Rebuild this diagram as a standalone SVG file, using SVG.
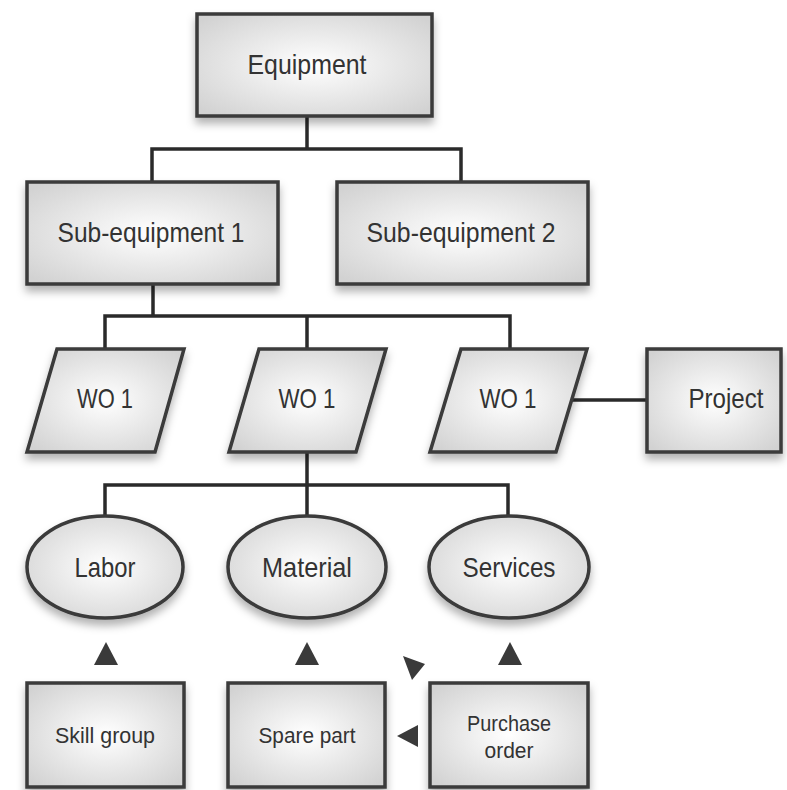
<svg xmlns="http://www.w3.org/2000/svg" width="787" height="790" viewBox="0 0 787 790">
<defs>
<radialGradient id="g" cx="50%" cy="50%" r="65%">
<stop offset="0" stop-color="#ffffff"/>
<stop offset="1" stop-color="#d2d2d2"/>
</radialGradient>
<filter id="sh" x="-10%" y="-10%" width="120%" height="135%">
<feDropShadow dx="0" dy="6" stdDeviation="4" flood-color="#000" flood-opacity="0.3"/>
</filter>
</defs>
<style>
.n{fill:url(#g);stroke:#3a3a3a;stroke-width:3.5;filter:url(#sh)}
.t{font-family:"Liberation Sans",Arial,sans-serif;font-size:28px;fill:#333;text-anchor:middle}
.s{font-size:22px}
.c{fill:none;stroke:#2a2a2a;stroke-width:3.5}
.a{fill:#3a3a3a}
</style>
<g id="connectors">
<path class="c" d="M307 116V149M152 183V149H461V183"/>
<path class="c" d="M153 284V316M105 349V316H510V349M307 316V349"/>
<path class="c" d="M572 400H647"/>
<path class="c" d="M307 452V485M105 516V485H508V516M307 485V516"/>
<path class="a" d="M94 665L106 642L118 665Z"/>
<path class="a" d="M295 665L307 642L319 665Z"/>
<path class="a" d="M498 665L510 642L522 665Z"/>
<path class="a" d="M403 656L425 664L412 680Z"/>
<path class="a" d="M397 736L418 725L418 747Z"/>
</g>
<g id="equipment"><rect class="n" x="197" y="14" width="235" height="102"/><text class="t" x="307" y="74" textLength="119" lengthAdjust="spacingAndGlyphs">Equipment</text></g>
<g id="sub1"><rect class="n" x="27" y="182" width="251" height="102"/><text class="t" x="151" y="242" textLength="187" lengthAdjust="spacingAndGlyphs">Sub-equipment 1</text></g>
<g id="sub2"><rect class="n" x="337" y="182" width="251" height="102"/><text class="t" x="461" y="242" textLength="189" lengthAdjust="spacingAndGlyphs">Sub-equipment 2</text></g>
<g id="wo1"><path class="n" d="M57 349H184L155 452H27Z"/><text class="t" x="105" y="408" textLength="56" lengthAdjust="spacingAndGlyphs">WO 1</text></g>
<g id="wo2"><path class="n" d="M259 349H386L356 452H229Z"/><text class="t" x="307" y="408" textLength="57" lengthAdjust="spacingAndGlyphs">WO 1</text></g>
<g id="wo3"><path class="n" d="M461 349H587L556 452H430Z"/><text class="t" x="508" y="408" textLength="57" lengthAdjust="spacingAndGlyphs">WO 1</text></g>
<g id="project"><rect class="n" x="647" y="349" width="134" height="103"/><text class="t" x="726" y="408" textLength="75" lengthAdjust="spacingAndGlyphs">Project</text></g>
<g id="labor"><ellipse class="n" cx="105" cy="567" rx="78" ry="51"/><text class="t" x="105" y="577" textLength="61" lengthAdjust="spacingAndGlyphs">Labor</text></g>
<g id="material"><ellipse class="n" cx="307" cy="567" rx="79" ry="51"/><text class="t" x="307" y="577" textLength="90" lengthAdjust="spacingAndGlyphs">Material</text></g>
<g id="services"><ellipse class="n" cx="509" cy="567" rx="80" ry="51"/><text class="t" x="509" y="577" textLength="93" lengthAdjust="spacingAndGlyphs">Services</text></g>
<g id="skill"><rect class="n" x="27" y="683" width="157" height="104"/><text class="t s" x="105" y="743" textLength="100" lengthAdjust="spacingAndGlyphs">Skill group</text></g>
<g id="spare"><rect class="n" x="228" y="683" width="157" height="104"/><text class="t s" x="307" y="743" textLength="97" lengthAdjust="spacingAndGlyphs">Spare part</text></g>
<g id="purchase"><rect class="n" x="430" y="683" width="158" height="104"/><text class="t s" x="509" y="731" textLength="84" lengthAdjust="spacingAndGlyphs">Purchase</text><text class="t s" x="509" y="758" textLength="49" lengthAdjust="spacingAndGlyphs">order</text></g>
</svg>
